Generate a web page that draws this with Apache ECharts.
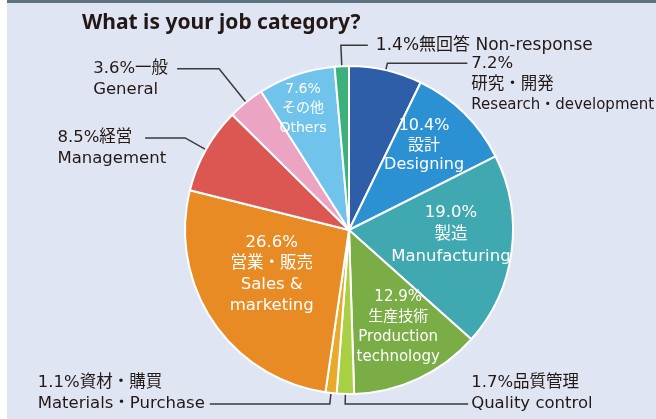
<!DOCTYPE html>
<html>
<head>
<meta charset="utf-8">
<script src="https://cdn.jsdelivr.net/npm/echarts@6/dist/echarts.min.js"></script>
<style>
html, body { margin: 0; padding: 0; background: #fff; }
.frame {
  position: absolute; left: 7px; top: 0;
  width: 649px; height: 419px;
  background: #dfe5f2;
  border-top: 3px solid #5f7482;
  box-sizing: border-box;
}
#chart { position: absolute; left: 0; top: 0; width: 656px; height: 419px; }
</style>
</head>
<body>
<div class="frame"></div>
<div id="chart"></div>
<script>
// survey answers, clockwise from 12 o'clock
var shares = [7.2, 10.4, 19.0, 12.9, 1.7, 1.1, 26.6, 8.5, 3.6, 7.6, 1.4];
var namesJa = ['研究・開発', '設計', '製造', '生産技術', '品質管理', '資材・購買', '営業・販売', '経営', '一般', 'その他', '無回答'];
var namesEn = ['Research・development', 'Designing', 'Manufacturing', 'Production\ntechnology', 'Quality control',
  'Materials・Purchase', 'Sales &\nmarketing', 'Management', 'General', 'Others', 'Non-response'];
var colors = ['#2f5ea9', '#2b91d2', '#3fa8b0', '#7aad45', '#a9cf45', '#e9a92b', '#e88b25', '#dc5752', '#eca4c3', '#70c4ec', '#3cb17c'];

var FONT = '"DejaVu Sans", "Noto Sans CJK JP", sans-serif';
var TEXT = '#231815';
var CX = 349, CY = 230, R = 164;

// labels drawn inside the slice: radius and small angle tweak
var inner = {
  1: { r: 113, da: -3, size: 16, lh: 19.5 },
  2: { r: 102, da: -4.8, size: 16.5, lh: 22 },
  3: { r: 109, da: -1.8, size: 15, lh: 20 },
  6: { r: 89, da: 4.1, size: 16.5, lh: 21 },
  9: { r: 130, da: -2, size: 14, lh: 19.5 }
};
// labels outside with a leader line
var outer = {
  0: { len: 7, len2: 80, gap: 4, pad: [42, 0, 0, 0], inset: 12, stack: true, enSize: 15 },
  4: { len: 10, len2: -123, gap: -3, pad: [0, 0, 21, 0], inset: 5, flip: true },
  5: { len: 11, len2: 120, gap: 5, pad: [0, 0, 21, 0], inset: 3 },
  7: { len: 24, len2: 40, gap: -21, pad: [21, 0, 0, 0], inset: 5 },
  8: { len: 43, len2: 42, gap: 9, pad: [21, 0, 0, 0], inset: 6 },
  10: { len: 21, len2: -27, gap: -8, pad: 0, inset: 8, flip: true, oneLine: true, size: 17 }
};

var total = shares.reduce(function (a, b) { return a + b; }, 0);
var midAngle = [];
var acc = 0;
shares.forEach(function (v) {
  midAngle.push((acc + v / 2) / total * 360);
  acc += v;
});

var data = shares.map(function (v, i) {
  var pct = v.toFixed(1) + '%';
  var item = { value: v, name: namesEn[i], itemStyle: { color: colors[i] } };
  if (inner[i]) {
    item.label = {
      position: 'inside',
      color: '#fff',
      fontFamily: FONT,
      fontSize: inner[i].size,
      lineHeight: inner[i].lh,
      formatter: pct + '\n' + namesJa[i] + '\n' + namesEn[i]
    };
    item.labelLine = { show: false };
  } else {
    var o = outer[i];
    var lines;
    if (o.oneLine) lines = ['{t|' + pct + namesJa[i] + ' ' + namesEn[i] + '}'];
    else if (o.stack) lines = ['{t|' + pct + '}', '{t|' + namesJa[i] + '}', '{s|' + namesEn[i] + '}'];
    else lines = ['{t|' + pct + namesJa[i] + '}', '{t|' + namesEn[i] + '}'];
    item.label = {
      position: 'outside',
      distanceToLabelLine: o.gap,
      padding: o.pad,
      formatter: lines.join('\n'),
      rich: {
        t: { align: 'left', fontFamily: FONT, fontSize: o.size || 16.5, lineHeight: 21, color: TEXT },
        s: { align: 'left', fontFamily: FONT, fontSize: o.enSize || 16.5, lineHeight: 21, color: TEXT }
      }
    };
    item.labelLine = { show: true, length: o.len, length2: o.len2 };
  }
  return item;
});

var chart = echarts.init(document.getElementById('chart'));
chart.setOption({
  animation: false,
  title: {
    text: 'What is your job category?',
    left: 77,
    top: 8,
    textStyle: { fontFamily: '"Noto Sans", sans-serif', fontWeight: 'bold', fontSize: 21, color: TEXT }
  },
  series: [{
    type: 'pie',
    center: [CX, CY],
    radius: R,
    startAngle: 90,
    clockwise: true,
    avoidLabelOverlap: false,
    itemStyle: { borderColor: '#fff', borderWidth: 2 },
    label: { fontFamily: FONT, fontSize: 16.5, color: TEXT },
    labelLine: { showAbove: true, minTurnAngle: 5, lineStyle: { color: '#3a3a3a', width: 1.5 } },
    emphasis: { disabled: true },
    data: data,
    labelLayout: function (p) {
      var i = p.dataIndex;
      if (inner[i]) {
        var a = (midAngle[i] + inner[i].da) * Math.PI / 180;
        return { x: CX + inner[i].r * Math.sin(a), y: CY - inner[i].r * Math.cos(a) };
      }
      var o = outer[i];
      var res = {};
      var pts = p.labelLinePoints;
      if (pts && pts.length > 1) {
        // start the leader a little inside the slice
        var dx = pts[0][0] - pts[1][0], dy = pts[0][1] - pts[1][1];
        var d = Math.sqrt(dx * dx + dy * dy) || 1;
        pts[0] = [pts[0][0] + dx / d * o.inset, pts[0][1] + dy / d * o.inset];
        res.labelLinePoints = pts;
      }
      if (o.flip) res.align = 'left';
      return res;
    }
  }]
});
</script>
</body>
</html>
